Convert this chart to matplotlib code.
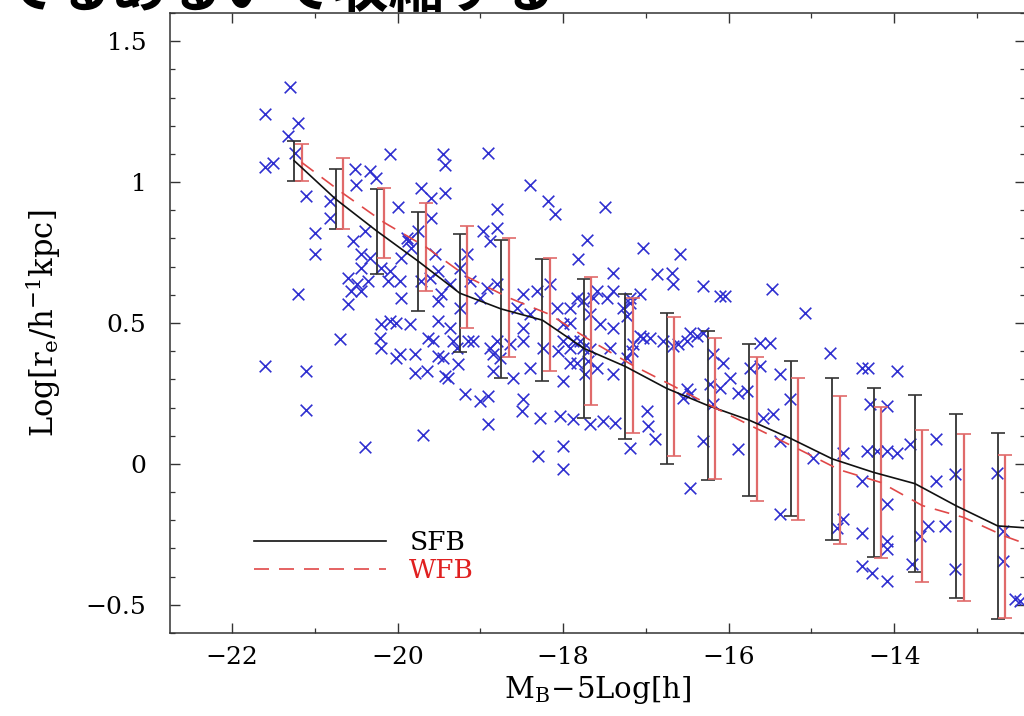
import matplotlib
matplotlib.use("Agg")
import matplotlib.pyplot as plt
from matplotlib.ticker import MultipleLocator, FuncFormatter

plt.rcParams['font.family'] = ['DejaVu Serif']
plt.rcParams['mathtext.fontset'] = 'dejavuserif'

# Binned median sizes: strong (SFB) and weak (WFB) feedback runs
bin_mag_sfb = [-21.25, -20.75, -20.25, -19.75, -19.25, -18.75, -18.25, -17.75, -17.25,
               -16.75, -16.25, -15.75, -15.25, -14.75, -14.25, -13.75, -13.25, -12.75, -12.25]
logr_sfb = [1.076, 0.94, 0.826, 0.719, 0.606, 0.55, 0.51, 0.41, 0.346,
            0.268, 0.207, 0.155, 0.09, 0.018, -0.03, -0.07, -0.149, -0.22, -0.23]
err_sfb = [0.071, 0.105, 0.151, 0.176, 0.21, 0.245, 0.217, 0.247, 0.257,
           0.268, 0.265, 0.27, 0.275, 0.288, 0.30, 0.315, 0.327, 0.33, 0.33]

bin_mag_wfb = [-21.16, -20.66, -20.16, -19.66, -19.16, -18.66, -18.16, -17.66, -17.16,
               -16.66, -16.16, -15.66, -15.16, -14.66, -14.16, -13.66, -13.16, -12.66, -12.16]
logr_wfb = [1.07, 0.96, 0.856, 0.77, 0.664, 0.59, 0.53, 0.436, 0.35,
            0.275, 0.198, 0.125, 0.053, -0.021, -0.066, -0.148, -0.19, -0.257, -0.31]
err_wfb = [0.066, 0.125, 0.124, 0.156, 0.18, 0.21, 0.2, 0.226, 0.24,
           0.247, 0.25, 0.255, 0.252, 0.263, 0.268, 0.27, 0.297, 0.29, 0.29]

# Individual galaxies
gal_mag = [
    -21.30, -21.60, -21.20, -21.32, -21.60, -21.50, -21.24, -21.11, -21.00, -21.00,
    -21.20, -20.82, -20.82, -20.51, -20.50, -20.33, -20.26, -20.09, -20.00, -19.72,
    -19.60, -19.45, -19.43, -19.43, -20.60, -20.44, -20.44, -20.36, -20.20, -20.12,
    -20.56, -19.87, -19.84, -19.96, -19.75, -19.72, -19.60, -19.55, -19.51, -19.48,
    -20.60, -20.70, -20.20, -20.02, -19.85, -20.20, -20.02, -19.79, -19.79, -21.60,
    -21.11, -21.11, -20.39, -19.69, -19.51, -19.63, -19.51, -19.43, -20.44, -19.96,
    -19.51, -18.91, -18.40, -18.18, -18.10, -17.50, -17.71, -17.82, -17.40, -17.04,
    -18.80, -18.80, -20.39, -20.54, -20.33, -20.49, -20.09, -19.97, -19.89, -19.61,
    -19.37, -19.25, -19.16, -19.13, -19.00, -18.92, -18.80, -18.97, -18.88, -20.09,
    -19.37, -19.25, -19.28, -19.09, -18.80, -18.56, -18.49, -18.49, -18.49, -18.40,
    -18.32, -18.24, -18.16, -18.00, -17.92, -17.83, -18.07, -17.76, -17.68, -17.64,
    -17.40, -17.56, -17.40, -17.28, -17.19, -17.04, -17.07, -17.43, -17.76, -18.00,
    -19.97, -18.85, -20.21, -19.45, -19.39, -19.27, -19.19, -19.00, -18.91, -18.91,
    -19.15, -18.76, -18.85, -18.61, -18.49, -18.50, -18.40, -18.28, -18.30, -18.00,
    -18.00, -18.00, -18.04, -17.88, -17.68, -17.83, -17.68, -17.74, -17.52, -17.37,
    -17.40, -17.23, -17.19, -16.99, -16.98, -16.89, -16.95, -16.55, -16.47, -16.50,
    -16.67, -16.38, -17.80, -17.88, -18.64, -18.88, -17.16, -19.57, -19.33, -19.64,
    -16.87, -16.69, -16.67, -16.59, -16.31, -16.11, -16.05, -15.48, -15.08, -14.78,
    -14.39, -14.32, -13.97, -17.59, -17.47, -17.19, -17.23, -17.92, -18.06, -17.92,
    -17.70, -17.59, -17.92, -17.17, -17.07, -16.79, -16.61, -16.47, -16.31, -16.19,
    -16.07, -16.50, -16.47, -16.23, -16.11, -16.19, -15.99, -15.89, -15.74, -15.62,
    -15.78, -15.62, -15.50, -15.38, -15.26, -15.59, -15.47, -15.38, -14.98, -16.31,
    -15.89, -15.38, -14.62, -14.39, -14.33, -14.21, -14.09, -13.97, -14.29, -14.09,
    -13.81, -13.49, -13.49, -13.27, -12.76, -14.62, -14.69, -14.39, -14.09, -14.09,
    -14.09, -14.39, -14.27, -14.09, -13.79, -13.69, -13.59, -13.39, -13.27, -12.69,
    -12.48, -12.69, -12.54,
]
gal_logr = [
    1.336, 1.243, 1.208, 1.165, 1.055, 1.066, 1.105, 0.952, 0.821, 0.746,
    0.604, 0.934, 0.874, 1.048, 0.988, 1.041, 1.016, 1.101, 0.913, 0.980,
    0.945, 1.101, 0.963, 1.059, 0.661, 0.746, 0.696, 0.650, 0.696, 0.650,
    0.615, 0.792, 0.767, 0.732, 0.828, 0.650, 0.874, 0.746, 0.686, 0.604,
    0.568, 0.444, 0.497, 0.501, 0.497, 0.412, 0.377, 0.391, 0.323, 0.348,
    0.330, 0.192, 0.060, 0.103, 0.508, 0.448, 0.384, 0.313, 0.615, 0.590,
    0.579, 1.105, 0.988, 0.934, 0.888, 0.913, 0.796, 0.728, 0.679, 0.767,
    0.906, 0.838, 0.828, 0.792, 0.732, 0.639, 0.686, 0.650, 0.803, 0.661,
    0.639, 0.696, 0.746, 0.650, 0.590, 0.625, 0.639, 0.828, 0.792, 0.508,
    0.483, 0.554, 0.412, 0.437, 0.437, 0.554, 0.604, 0.483, 0.437, 0.533,
    0.615, 0.412, 0.639, 0.497, 0.554, 0.590, 0.554, 0.579, 0.533, 0.590,
    0.615, 0.497, 0.483, 0.554, 0.590, 0.448, 0.604, 0.412, 0.412, 0.437,
    0.391, 0.391, 0.448, 0.377, 0.306, 0.355, 0.249, 0.224, 0.242, 0.142,
    0.437, 0.377, 0.330, 0.306, 0.231, 0.188, 0.341, 0.163, 0.028, 0.064,
    -0.018, 0.295, 0.171, 0.160, 0.142, 0.359, 0.409, 0.320, 0.153, 0.146,
    0.320, 0.377, 0.057, 0.188, 0.135, 0.089, 0.448, 0.234, -0.085, 0.437,
    0.419, 0.455, 0.437, 0.437, 0.426, 0.412, 0.426, 0.437, 0.437, 0.330,
    0.675, 0.679, 0.639, 0.746, 0.632, 0.597, 0.597, 0.622, 0.536, 0.394,
    0.341, 0.341, 0.330, 0.615, 0.590, 0.572, 0.526, 0.501, 0.401, 0.412,
    0.366, 0.341, 0.359, 0.401, 0.455, 0.437, 0.426, 0.465, 0.465, 0.391,
    0.359, 0.266, 0.249, 0.284, 0.270, 0.213, 0.306, 0.252, 0.341, 0.348,
    0.259, 0.430, 0.430, 0.320, 0.231, 0.163, 0.178, 0.082, 0.021, 0.082,
    0.053, -0.178, 0.039, -0.060, 0.046, 0.046, 0.046, 0.039, 0.213, 0.206,
    0.071, 0.089, -0.060, -0.036, -0.032, -0.195, -0.227, -0.245, -0.142, -0.274,
    -0.302, -0.362, -0.387, -0.416, -0.355, -0.256, -0.220, -0.220, -0.373, -0.345,
    -0.487, -0.238, -0.480,
]

x_ticks_major = [-22, -20, -18, -16, -14]
y_ticks_major = [-0.5, 0, 0.5, 1, 1.5]

fig = plt.figure(figsize=(10.24, 7.16), dpi=100)
fig.patch.set_facecolor('white')

# slide heading above the plot; only its lower edge falls on the canvas
fig.text(0.0, 1.012, 'でるあるいで収縮する', fontsize=40, color='black',
         family=['Noto Sans CJK JP', 'DejaVu Sans'], fontweight='bold',
         ha='left', va='center')

ax = fig.add_axes([170 / 1024, 83 / 716, 855 / 1024, 620 / 716])

ax.scatter(gal_mag, gal_logr, marker='x', s=70, color='#2f2fd0', linewidths=1.2,
           zorder=2)

ax.errorbar(bin_mag_sfb, logr_sfb, yerr=err_sfb, fmt='none', ecolor='#333333',
            elinewidth=1.3, capsize=5, capthick=1.2, zorder=3)
ax.errorbar(bin_mag_wfb, logr_wfb, yerr=err_wfb, fmt='none', ecolor='#e06a6a',
            elinewidth=1.6, capsize=5, capthick=1.2, zorder=3)

ax.plot(bin_mag_sfb, logr_sfb, color='#111111', lw=1.2, label='SFB', zorder=4)
ax.plot(bin_mag_wfb, logr_wfb, color='#e04848', lw=1.2, ls=(0, (9, 6)),
        label='WFB', zorder=4)

ax.set_xlim(-22.75, -12.42)
ax.set_ylim(-0.6, 1.6)

ax.set_xticks(x_ticks_major)
ax.set_yticks(y_ticks_major)
ax.xaxis.set_minor_locator(MultipleLocator(1))
ax.yaxis.set_minor_locator(MultipleLocator(0.1))

fmt = FuncFormatter(lambda v, p: ('%g' % v).replace('-', '\u2212'))
ax.xaxis.set_major_formatter(fmt)
ax.yaxis.set_major_formatter(fmt)

ax.tick_params(which='both', direction='in', top=True, right=True, color='#333333')
ax.tick_params(which='major', length=7, width=1.0, labelsize=18)
ax.tick_params(axis='x', which='major', pad=9)
ax.tick_params(axis='y', which='major', pad=17)
ax.tick_params(which='minor', length=3.5, width=0.9)
for sp in ax.spines.values():
    sp.set_color('#333333')
    sp.set_linewidth(1.1)

ax.set_xlabel(r'$\mathrm{M}_\mathrm{B}\!-\!5\mathrm{Log[h]}$', fontsize=21, labelpad=4)
ax.set_ylabel(r'$\mathrm{Log[r}_\mathrm{e}\mathrm{/h}^{-1}\mathrm{kpc]}$', fontsize=22,
              labelpad=16)

leg = ax.legend(loc='lower left', bbox_to_anchor=(0.07, 0.042), frameon=False,
                fontsize=19, handlelength=5.0, handletextpad=0.9, labelspacing=0.12)
for txt, c in zip(leg.get_texts(), ['black', '#e02020']):
    txt.set_color(c)

fig.savefig('out.png', dpi=100, facecolor='white')
